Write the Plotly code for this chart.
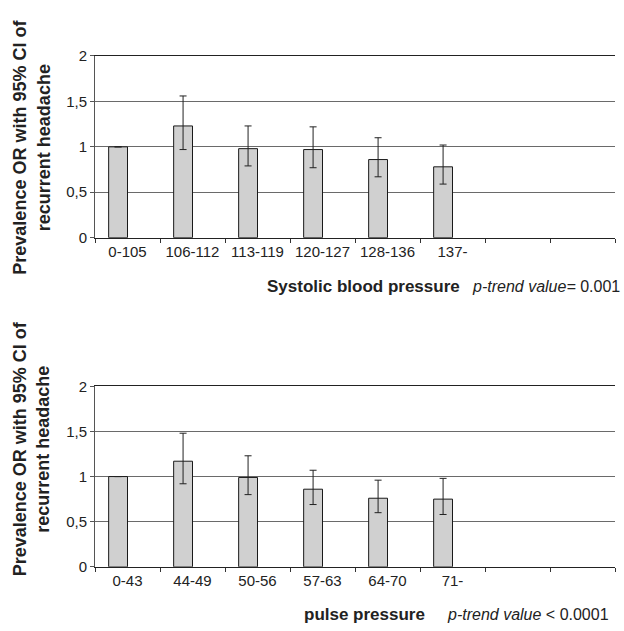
import plotly.graph_objects as go

# ---------------- data ----------------
sbp_categories = ["0-105", "106-112", "113-119", "120-127", "128-136", "137-"]
sbp_or = [1.00, 1.23, 0.98, 0.97, 0.86, 0.78]
sbp_lower = [1.00, 0.97, 0.79, 0.77, 0.67, 0.59]
sbp_upper = [1.00, 1.56, 1.23, 1.22, 1.10, 1.02]

pp_categories = ["0-43", "44-49", "50-56", "57-63", "64-70", "71-"]
pp_or = [1.00, 1.17, 0.99, 0.86, 0.76, 0.75]
pp_lower = [1.00, 0.92, 0.80, 0.69, 0.60, 0.58]
pp_upper = [1.00, 1.48, 1.23, 1.07, 0.96, 0.98]

n_slots = 8  # category slots on the axis (last two empty)
y_ticks = [0, 0.5, 1, 1.5, 2]

# ---------------- layout helpers ----------------
W, H = 624, 631
FONT = "Liberation Sans, Arial, Helvetica, sans-serif"


def px(x):
    return x / W


def py(y):
    return 1 - y / H


fig = go.Figure()


def add_panel(cats, vals, lo, hi, xref, yref):
    idx = list(range(len(cats)))
    fig.add_trace(go.Bar(
        x=idx, y=vals, width=0.29, offset=-0.29,
        xaxis=xref, yaxis=yref,
        marker=dict(color="#d0d0d0", line=dict(color="#1a1a1a", width=1)),
        error_y=dict(type="data", symmetric=False,
                     array=[h - v for h, v in zip(hi, vals)],
                     arrayminus=[v - l for v, l in zip(vals, lo)],
                     color="#222222", thickness=1, width=3.5),
        showlegend=False, hoverinfo="skip",
    ))


add_panel(sbp_categories, sbp_or, sbp_lower, sbp_upper, "x", "y")
add_panel(pp_categories, pp_or, pp_lower, pp_upper, "x2", "y2")


def xaxis_cfg(cats, anchor):
    return dict(
        domain=[px(95), px(615)], anchor=anchor,
        range=[-0.5, n_slots - 0.5], type="linear",
        tickmode="array", tickvals=list(range(len(cats))), ticktext=cats,
        ticks="", showgrid=False, zeroline=False,
        showline=True, linecolor="#222222", linewidth=1, mirror=True,
        tickfont=dict(size=15, color="#222222", family=FONT),
        minor=dict(tick0=-0.5, dtick=1, ticks="outside", ticklen=4,
                   tickcolor="#333333", showgrid=False),
        fixedrange=True,
    )


def yaxis_cfg(dom, anchor):
    return dict(
        domain=dom, anchor=anchor, range=[0, 2],
        tickmode="array", tickvals=y_ticks,
        ticks="outside", ticklen=4, tickcolor="#555555",
        showgrid=True, gridcolor="#6a6a6a", gridwidth=1,
        zeroline=False, showline=True, linecolor="#555555", linewidth=1,
        tickfont=dict(size=15, color="#222222", family=FONT),
        fixedrange=True,
    )


fig.update_layout(
    width=W, height=H,
    margin=dict(l=0, r=0, t=0, b=0),
    paper_bgcolor="white", plot_bgcolor="white",
    separators=",.",
    font=dict(family=FONT, color="#222222"),
    xaxis=xaxis_cfg(sbp_categories, "y"),
    yaxis=yaxis_cfg([py(235), py(48.3)], "x"),
    xaxis2=xaxis_cfg(pp_categories, "y2"),
    yaxis2=yaxis_cfg([py(573.3), py(387.7)], "x2"),
    bargap=0,
)

ytitle = "<b>Prevalence OR with 95% CI of<br>recurrent headache</b>"
anns = [
    dict(text=ytitle, x=px(31.5), y=py(142), textangle=-90,
         font=dict(size=18, color="#222222", family=FONT)),
    dict(text=ytitle, x=px(31.5), y=py(452), textangle=-90,
         font=dict(size=18, color="#222222", family=FONT)),
    dict(text="<b>Systolic blood pressure</b>", x=px(265), y=py(285),
         xanchor="left", font=dict(size=17, color="#222222", family=FONT)),
    dict(text="<i>p-trend value=</i> 0.001", x=px(622), y=py(285),
         xanchor="right", font=dict(size=16, color="#222222", family=FONT)),
    dict(text="<b>pulse pressure</b>", x=px(302), y=py(622),
         xanchor="left", font=dict(size=17, color="#222222", family=FONT)),
    dict(text="<i>p-trend value</i> &lt; 0.0001", x=px(611), y=py(622),
         xanchor="right", font=dict(size=16, color="#222222", family=FONT)),
]
for a in anns:
    a.update(xref="paper", yref="paper", showarrow=False)
    a.setdefault("xanchor", "center")
    a.setdefault("yanchor", "middle")
fig.update_layout(annotations=anns)

fig.write_html(
    "out.html",
    config={"displayModeBar": False, "staticPlot": True},
    post_script="document.body.style.margin='0';document.body.style.overflow='hidden';",
)
